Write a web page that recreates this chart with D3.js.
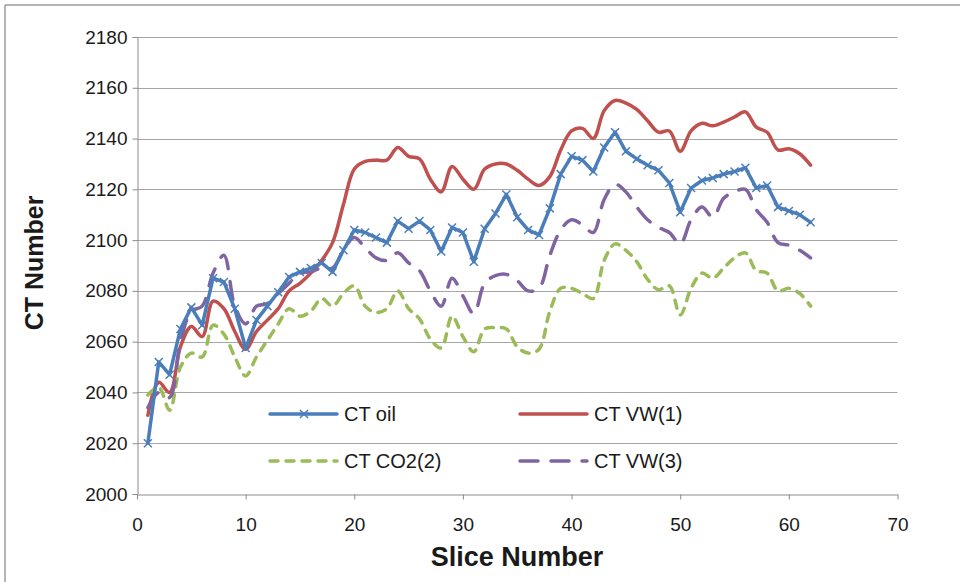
<!DOCTYPE html>
<html>
<head>
<meta charset="utf-8">
<script src="https://cdn.jsdelivr.net/npm/d3@7/dist/d3.min.js"></script>
<style>
  html, body { margin: 0; padding: 0; background: #fff; }
  svg { display: block; }
  text { font-family: "Liberation Sans", Arial, sans-serif; fill: #1a1a1a; }
</style>
</head>
<body>
<svg id="chart" width="960" height="582"></svg>
<script>
// CT number profiles along the core, one value per slice (1..62)
const slices = d3.range(1, 63);

const ctOil = [2020, 2052, 2047, 2065, 2073.5, 2066.5, 2085, 2083.5, 2073, 2057.5,
  2068.5, 2074, 2079.5, 2085.5, 2087.5, 2089, 2091, 2087.5, 2096, 2104,
  2103, 2101, 2099, 2107.5, 2104.5, 2107.5, 2104, 2095.5, 2105, 2103,
  2091.5, 2104.5, 2110.5, 2118, 2109, 2104, 2102, 2112.5, 2126, 2133,
  2131.5, 2127, 2136.5, 2142.5, 2135, 2132, 2129.5, 2127.5, 2122.5, 2111,
  2120.5, 2123.5, 2124.5, 2126, 2127, 2128.5, 2120.5, 2121.5, 2113, 2111.5,
  2110, 2107];

const ctVW1 = [2031, 2044, 2040, 2058, 2066, 2062, 2076, 2073, 2064, 2057,
  2064, 2068.5, 2073, 2080, 2083, 2087, 2092, 2099, 2114, 2128,
  2131, 2131.5, 2131.5, 2136.5, 2133, 2132, 2124, 2119, 2129, 2124,
  2120, 2128, 2130, 2130, 2127.5, 2124, 2121.5, 2125, 2135.5, 2143,
  2144, 2140, 2151, 2155, 2154, 2151.5, 2147, 2142.5, 2143, 2135,
  2143, 2146, 2145, 2146.5, 2148.5, 2150.5, 2144.5, 2142.5, 2135.5, 2136,
  2134, 2129.5];

const ctCO2 = [2039, 2042, 2033, 2050, 2055.5, 2054, 2066.5, 2063, 2054, 2046.5,
  2054, 2060.5, 2067, 2073, 2070, 2072, 2077, 2074, 2079, 2082,
  2074, 2071.5, 2073, 2080, 2073, 2069, 2061, 2057.5, 2070, 2062,
  2056, 2065, 2065.5, 2065, 2058, 2055.5, 2057, 2072, 2081, 2081,
  2079, 2077, 2092, 2098.5, 2096, 2091.5, 2084.5, 2080.5, 2082, 2070.5,
  2081, 2087, 2085, 2089, 2093, 2095, 2088, 2087, 2080, 2081,
  2079, 2074];

const ctVW3 = [2034, 2040, 2038, 2060, 2072, 2074, 2087, 2094, 2074, 2067,
  2074, 2075, 2079, 2083, 2087, 2087.5, 2089, 2089, 2096, 2101,
  2097, 2093, 2092, 2095, 2091, 2088, 2080, 2074, 2085, 2078,
  2071, 2083, 2086, 2086.5, 2084, 2080, 2081, 2094, 2104, 2108,
  2106, 2103, 2116, 2122, 2119, 2113, 2108, 2105, 2103, 2098.5,
  2108, 2113, 2109, 2116.5, 2119, 2120, 2112, 2107, 2099, 2098,
  2096, 2093];

const xTicks = [0, 10, 20, 30, 40, 50, 60, 70];
const yTicks = [2000, 2020, 2040, 2060, 2080, 2100, 2120, 2140, 2160, 2180];

const seriesNames = ["CT oil", "CT VW(1)", "CT CO2(2)", "CT VW(3)"];

const svg = d3.select("#chart");

// outer frame (top and left edges)
svg.append("line").attr("x1", 5).attr("y1", 5).attr("x2", 960).attr("y2", 5)
  .attr("stroke", "#9a9a9a").attr("stroke-width", 1.5);
svg.append("line").attr("x1", 5).attr("y1", 5).attr("x2", 5).attr("y2", 582)
  .attr("stroke", "#9a9a9a").attr("stroke-width", 1.5);

const x = d3.scaleLinear().domain([0, 70]).range([137, 897.5]);
const y = d3.scaleLinear().domain([2000, 2180]).range([494, 37]);

// horizontal grid lines
svg.append("g").selectAll("line").data(yTicks.filter(t => t > 2000)).join("line")
  .attr("x1", x(0)).attr("x2", x(70))
  .attr("y1", d => Math.round(y(d)) + 0.5).attr("y2", d => Math.round(y(d)) + 0.5)
  .attr("stroke", "#a6a6a6").attr("stroke-width", 1);

// y axis
const yAxis = svg.append("g")
  .attr("transform", `translate(${Math.round(x(0)) + 0.5},0)`)
  .call(d3.axisLeft(y).tickValues(yTicks).tickFormat(d3.format("d"))
    .tickSize(5).tickSizeOuter(0).tickPadding(5));
yAxis.select(".domain").attr("stroke", "#8c8c8c");
yAxis.selectAll(".tick line").attr("stroke", "#8c8c8c");
yAxis.selectAll(".tick text").attr("font-family", "Liberation Sans, sans-serif")
  .style("font-size", "19px").style("fill", "#1a1a1a");

// x axis
const xAxis = svg.append("g")
  .attr("transform", `translate(0,${Math.round(y(2000)) + 0.5})`)
  .call(d3.axisBottom(x).tickValues(xTicks).tickFormat(d3.format("d"))
    .tickSize(5).tickSizeOuter(0).tickPadding(18));
xAxis.select(".domain").attr("stroke", "#8c8c8c");
xAxis.selectAll(".tick line").attr("stroke", "#8c8c8c");
xAxis.selectAll(".tick text").style("font-size", "19px").style("fill", "#1a1a1a")
  .attr("font-family", "Liberation Sans, sans-serif");

// axis titles
svg.append("text").attr("x", 517).attr("y", 566).attr("text-anchor", "middle")
  .attr("font-weight", "bold").style("font-size", "27px")
  .text("Slice Number");
svg.append("text").attr("transform", "translate(43,263) rotate(-90)")
  .attr("text-anchor", "middle").attr("font-weight", "bold").style("font-size", "25px")
  .text("CT Number");

// series styles
const series = [
  { name: seriesNames[1], values: ctVW1, color: "#C0504D", dash: null, curve: d3.curveCatmullRom.alpha(0.5) },
  { name: seriesNames[2], values: ctCO2, color: "#9BBB59", dash: "8,8", curve: d3.curveCatmullRom.alpha(0.5) },
  { name: seriesNames[3], values: ctVW3, color: "#8064A2", dash: "18,13", curve: d3.curveCatmullRom.alpha(0.5) },
  { name: seriesNames[0], values: ctOil, color: "#4A7EBB", dash: null, curve: d3.curveLinear, marker: true }
];

const plot = svg.append("g");
series.forEach(s => {
  const line = d3.line().x((d, i) => x(slices[i])).y(d => y(d)).curve(s.curve);
  plot.append("path").datum(s.values)
    .attr("d", line)
    .attr("fill", "none")
    .attr("stroke", s.color)
    .attr("stroke-width", 3.5)
    .attr("stroke-linecap", "round")
    .attr("stroke-linejoin", "round")
    .attr("stroke-dasharray", s.dash);
  if (s.marker) {
    const m = 4;
    plot.append("g").selectAll("path").data(s.values).join("path")
      .attr("d", (d, i) => {
        const cx = x(slices[i]), cy = y(d);
        return `M${cx - m},${cy - m}L${cx + m},${cy + m}M${cx - m},${cy + m}L${cx + m},${cy - m}`;
      })
      .attr("stroke", s.color).attr("stroke-width", 1.5).attr("fill", "none");
  }
});

// legend
const legendItems = [
  { name: seriesNames[0], color: "#4A7EBB", dash: null, marker: true, lx: 270, ly: 414 },
  { name: seriesNames[1], color: "#C0504D", dash: null, marker: false, lx: 520, ly: 414 },
  { name: seriesNames[2], color: "#9BBB59", dash: "8,8", marker: false, lx: 270, ly: 461 },
  { name: seriesNames[3], color: "#8064A2", dash: "18,13", marker: false, lx: 520, ly: 461 }
];
const legend = svg.append("g");
legendItems.forEach(it => {
  legend.append("line")
    .attr("x1", it.lx).attr("x2", it.lx + 67).attr("y1", it.ly).attr("y2", it.ly)
    .attr("stroke", it.color).attr("stroke-width", 3.5)
    .attr("stroke-linecap", "round")
    .attr("stroke-dasharray", it.dash);
  if (it.marker) {
    const cx = it.lx + 34, cy = it.ly, m = 4;
    legend.append("path")
      .attr("d", `M${cx - m},${cy - m}L${cx + m},${cy + m}M${cx - m},${cy + m}L${cx + m},${cy - m}`)
      .attr("stroke", it.color).attr("stroke-width", 1.5);
  }
  legend.append("text").attr("x", it.lx + 74).attr("y", it.ly + 7)
    .style("font-size", "20px")
    .text(it.name);
});
</script>
</body>
</html>
